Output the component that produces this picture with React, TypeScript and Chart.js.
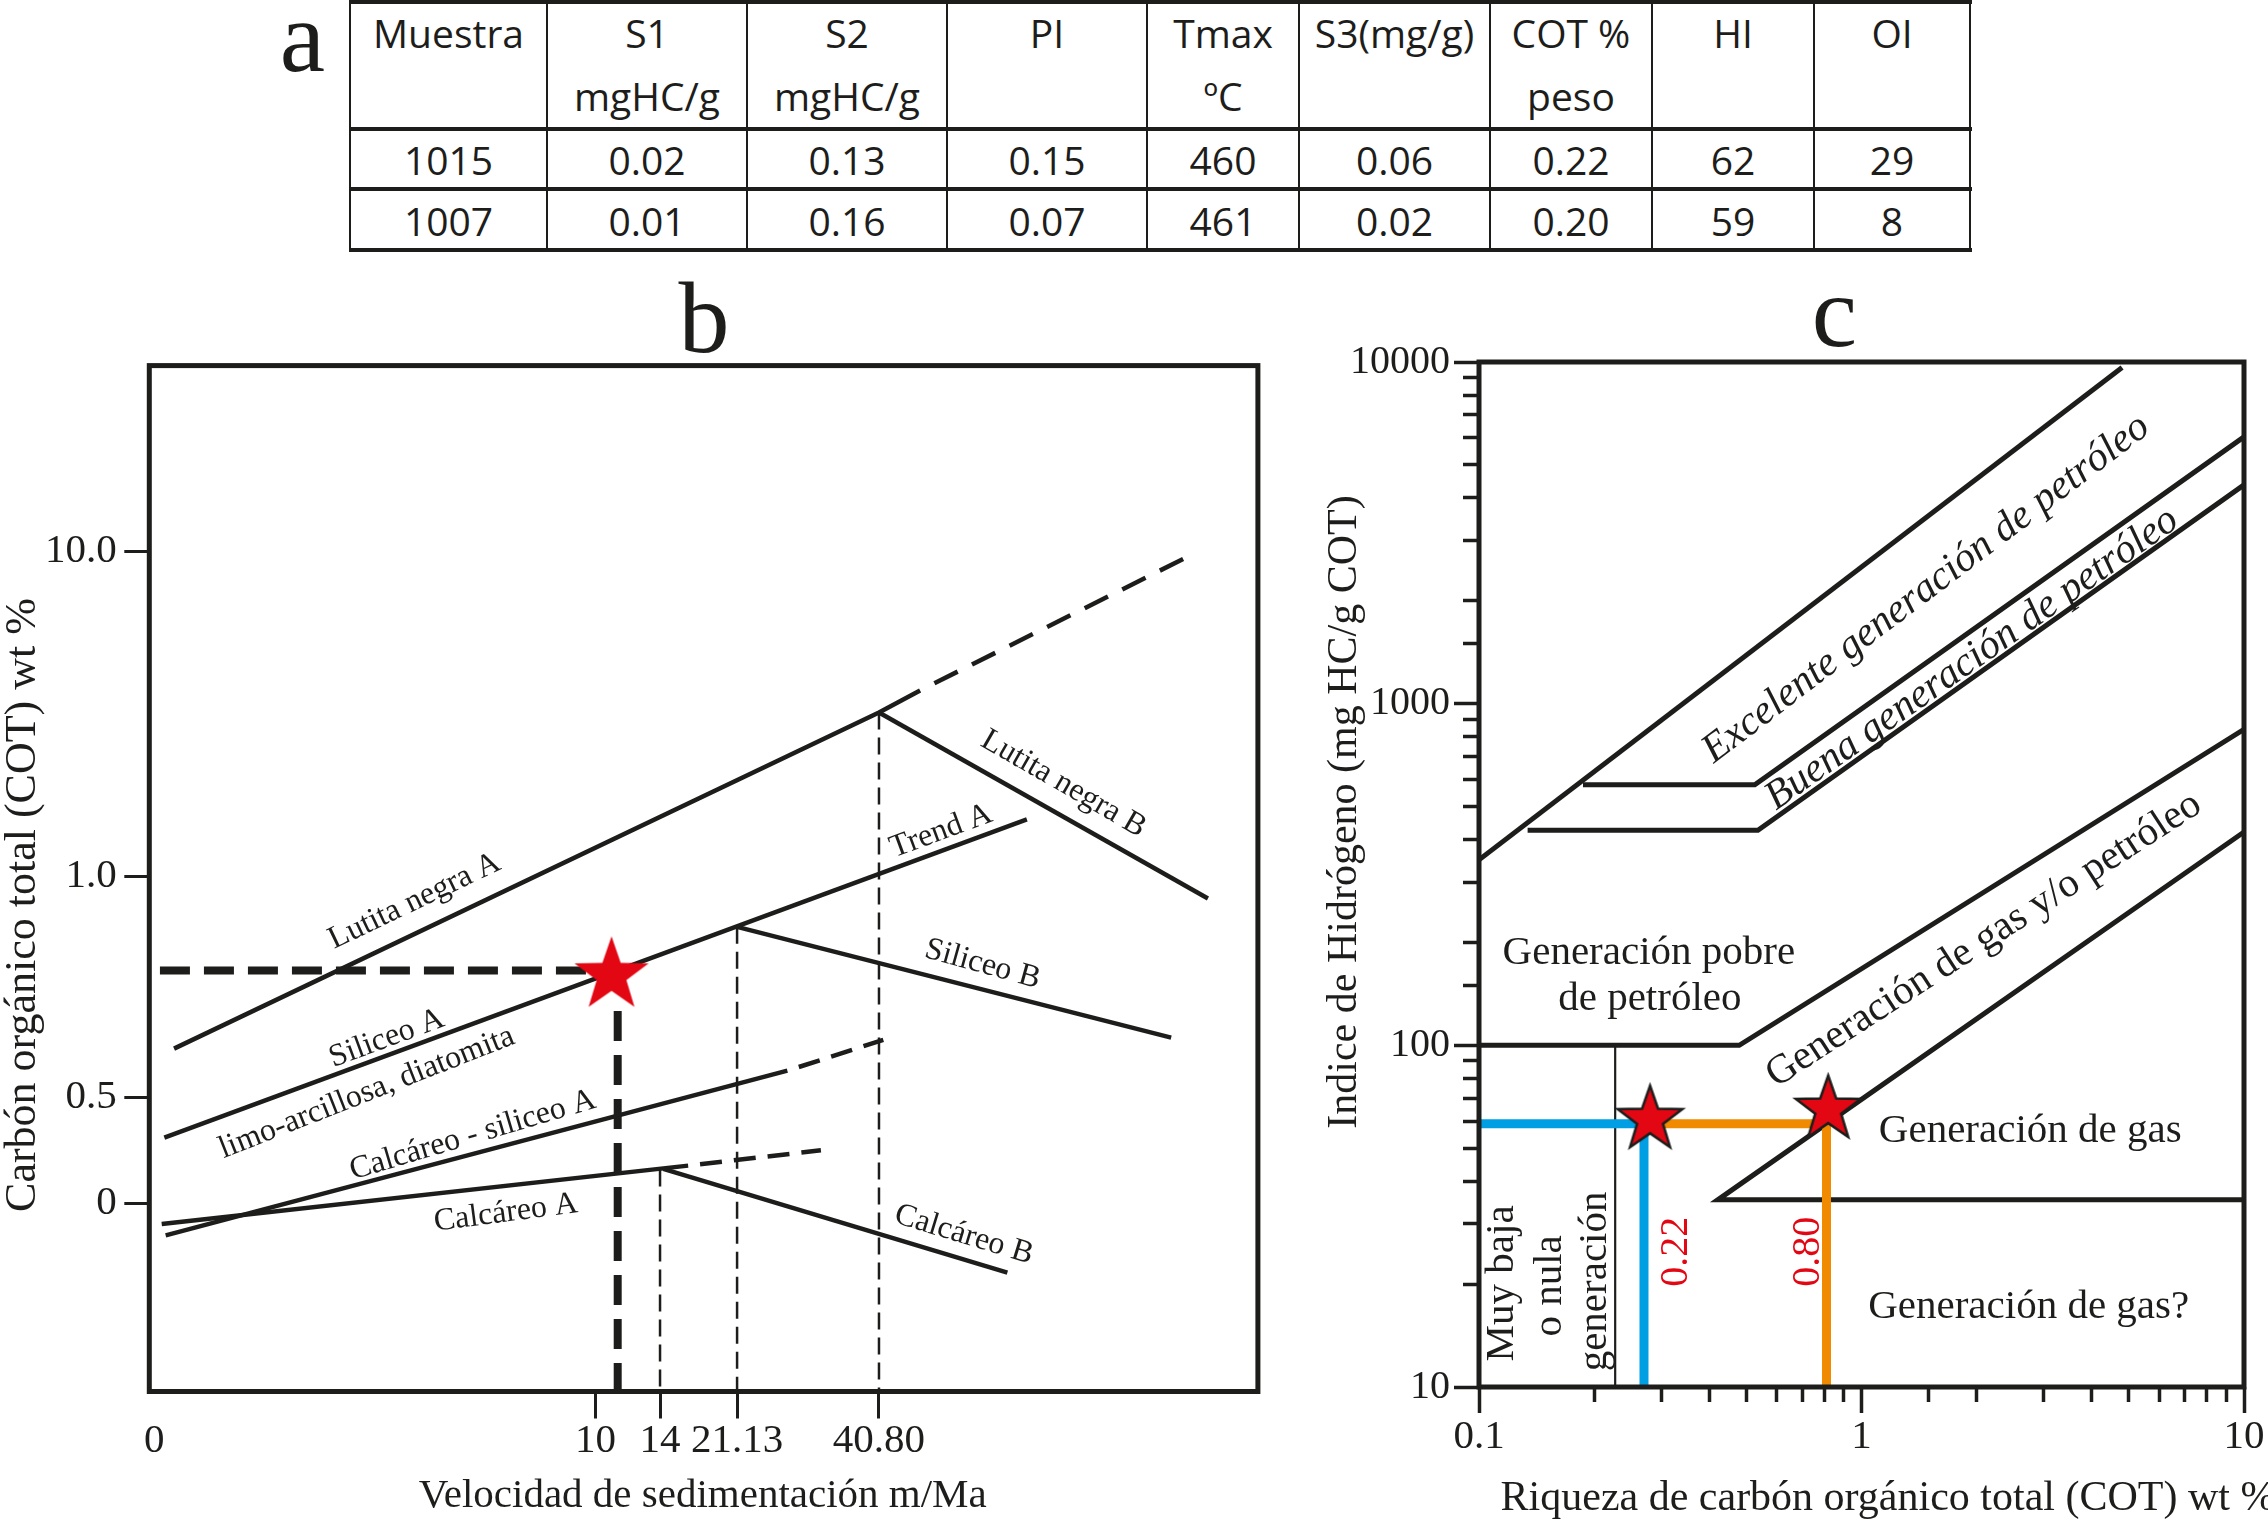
import React, { useEffect, useRef } from 'react';
import { Chart, registerables, LinearScale } from 'chart.js';

// ---------- custom piecewise-linear axis (panel b uses a schematic, non-uniform axis)
class PiecewiseScale extends (LinearScale as any) {
  static id = 'piecewise';
  static defaults = {};
  buildTicks() {
    return (this.options.breaks as number[]).map((v: number) => ({ value: v }));
  }
  toDecimal(v: number) {
    const b = this.options.breaks as number[];
    const s = this.options.stops as number[];
    let i = 0;
    if (v >= b[b.length - 1]) i = b.length - 2;
    else if (v > b[0]) {
      while (v > b[i + 1]) i++;
    }
    return s[i] + ((v - b[i]) * (s[i + 1] - s[i])) / (b[i + 1] - b[i]);
  }
  getPixelForValue(v: number) {
    return this.getPixelForDecimal(this.toDecimal(v));
  }
  getValueForPixel(p: number) {
    const d = this.getDecimalForPixel(p);
    const b = this.options.breaks as number[];
    const s = this.options.stops as number[];
    let i = 0;
    if (d >= s[s.length - 1]) i = s.length - 2;
    else if (d > s[0]) {
      while (d > s[i + 1]) i++;
    }
    return b[i] + ((d - s[i]) * (b[i + 1] - b[i])) / (s[i + 1] - s[i]);
  }
}

Chart.register(...registerables, PiecewiseScale as any);

const INK = '#1d1d1b';
const RED = '#e30613';
const BLUE = '#009fe3';
const ORANGE = '#f08a00';
const SERIF = '"Liberation Serif", "Times New Roman", serif';
const SANS = '"Open Sans", "Noto Sans", sans-serif';

// ---------- panel a : table
const tableHeadTop = ['Muestra', 'S1', 'S2', 'PI', 'Tmax', 'S3(mg/g)', 'COT %', 'HI', 'OI'];
const tableHeadBottom = ['', 'mgHC/g', 'mgHC/g', '', 'ºC', '', 'peso', '', ''];
const sample1015 = ['1015', '0.02', '0.13', '0.15', '460', '0.06', '0.22', '62', '29'];
const sample1007 = ['1007', '0.01', '0.16', '0.07', '461', '0.02', '0.20', '59', '8'];

// ---------- panel b : data (axis units)
const bXTicks = [0, 10, 14, 21.13, 40.8];
const bXTickLabels = ['0', '10', '14', '21.13', '40.80'];
const bYTicks = [0, 0.5, 1.0, 10.0];
const bYTickLabels = ['0', '0.5', '1.0', '10.0'];
const bXRange = [-0.111, 93.32];
const bYRange = [-0.884, 15.14];

const lutitaNegraA = [[0.45, 0.61], [40.8, 5.54], [46.5, 6.15]];
const lutitaNegraAExt = [[46.5, 6.15], [84.5, 9.94]];
const lutitaNegraB = [[40.8, 5.54], [86.4, 0.95]];
const trendA = [[0.23, 0.31], [61.3, 2.58]];
const siliceoB = [[21.13, 0.886], [81.3, 0.635]];
const calcSiliceoA = [[0.26, -0.15], [28.1, 0.56]];
const calcSiliceoAExt = [[28.1, 0.56], [41.4, 0.63]];
const calcareoA = [[0.17, -0.097], [16.6, 0.178]];
const calcareoAExt = [[16.6, 0.178], [32.75, 0.25]];
const calcareoB = [[14.3, 0.163], [58.6, -0.325]];
const drop14 = [[14, 0.16], [14, -0.884]];
const drop2113 = [[21.13, 0.886], [21.13, -0.884]];
const drop4080 = [[40.8, 5.54], [40.8, -0.884]];
const sampleB = [[11.0, 0.776]];
const sampleGuideH = [[0.13, 0.787], [9.85, 0.787]];
const sampleGuideV = [[11.38, 0.695], [11.38, -0.884]];

const bNotes = [
  { text: 'Lutita negra A', x: 5.9, y: 0.944, angle: -25.6 },
  { text: 'Siliceo A', x: 5.27, y: 0.633, angle: -20.3 },
  { text: 'limo-arcillosa, diatomita', x: 4.82, y: 0.51, angle: -21.5 },
  { text: 'Calcáreo - siliceo A', x: 7.22, y: 0.321, angle: -16.5 },
  { text: 'Calcáreo A', x: 7.97, y: -0.045, angle: -7.5 },
  { text: 'Calcáreo B', x: 52.58, y: -0.148, angle: 17 },
  { text: 'Siliceo B', x: 55.16, y: 0.801, angle: 15.5 },
  { text: 'Trend A', x: 49.41, y: 2.254, angle: -20.3 },
  { text: 'Lutita negra B', x: 66.38, y: 3.565, angle: 30 },
];

// ---------- panel c : data (COT wt %, HI)
const cXTicks = [0.1, 1, 10];
const cXTickLabels = ['0.1', '1', '10'];
const cYTicks = [10, 100, 1000, 10000];
const cYTickLabels = ['10', '100', '1000', '10000'];

const excelenteLow = [[0.1, 349], [4.8, 9630]];
const buenaTop = [[0.187, 579], [0.526, 579], [10, 6040]];
const buenaLow = [[0.134, 426], [0.536, 426], [10, 4370]];
const gasPetroleoTop = [[0.1, 100], [0.479, 100], [10, 841]];
const gasPetroleoLow = [[10, 421], [0.421, 35.3], [10, 35.3]];
const muyBajaLimit = [[0.227, 100], [0.227, 10]];
const sample1015Path = [[0.1, 59], [0.27, 59], [0.27, 10]];
const sample1007Path = [[0.27, 59], [0.81, 59], [0.81, 10]];
const samplesC = [[0.28, 60.6], [0.818, 64.9]];

const cNotes = [
  { text: 'Excelente generación de petróleo', x: 1.476, y: 2166, angle: -37.2, italic: true, size: 41 },
  { text: 'Buena generación de petróleo', x: 1.945, y: 1350, angle: -35.2, italic: true, size: 41 },
  { text: 'Generación de gas y/o petróleo', x: 2.091, y: 203.4, angle: -33, size: 41 },
  { text: 'Generación pobre', x: 0.278, y: 172.7, size: 41, baseline: 'alphabetic' },
  { text: 'de petróleo', x: 0.2797, y: 127.0, size: 41, baseline: 'alphabetic' },
  { text: 'Generación de gas', x: 2.762, y: 52.2, size: 41, baseline: 'alphabetic' },
  { text: 'Generación de gas?', x: 2.736, y: 15.89, size: 41, baseline: 'alphabetic' },
  { text: 'Muy baja', x: 0.1225, y: 20.1, angle: -90, size: 41, baseline: 'alphabetic' },
  { text: 'o nula', x: 0.1642, y: 19.76, angle: -90, size: 41, baseline: 'alphabetic' },
  { text: 'generación', x: 0.2146, y: 20.37, angle: -90, size: 41, baseline: 'alphabetic' },
  { text: '0.22', x: 0.3505, y: 24.86, angle: -90, size: 40, baseline: 'alphabetic', color: RED },
  { text: '0.80', x: 0.776, y: 24.86, angle: -90, size: 40, baseline: 'alphabetic', color: RED },
];

// ---------- layout (pixels)
const colEdges = [350, 547, 747, 947, 1147, 1299, 1490, 1652, 1814, 1970];
const rowRules = [2, 128.5, 189.2, 250.2];
const textRows = [34, 97, 161, 222];

type Note = {
  text: string; x: number; y: number; angle?: number; size?: number; italic?: boolean;
  color?: string; align?: CanvasTextAlign; baseline?: CanvasTextBaseline; pixel?: boolean;
};

const pts = (a: number[][]) => a.map(([x, y]) => ({ x, y }));

function notesPlugin(notes: Note[], defaultSize: number) {
  return {
    id: 'notes',
    afterDraw(chart: any) {
      const ctx = chart.ctx;
      for (const n of notes) {
        const px = n.pixel ? n.x : chart.scales.x.getPixelForValue(n.x);
        const py = n.pixel ? n.y : chart.scales.y.getPixelForValue(n.y);
        ctx.save();
        ctx.translate(px, py);
        if (n.angle) ctx.rotate((n.angle * Math.PI) / 180);
        ctx.font = `${n.italic ? 'italic ' : ''}${n.size || defaultSize}px ${SERIF}`;
        ctx.fillStyle = n.color || INK;
        ctx.textAlign = n.align || 'center';
        ctx.textBaseline = n.baseline || 'middle';
        ctx.fillText(n.text, 0, 0);
        ctx.restore();
      }
    },
  };
}

function framePlugin(w: number) {
  return {
    id: 'frame',
    afterDatasetsDraw(chart: any) {
      const { ctx, chartArea: a } = chart;
      ctx.save();
      ctx.strokeStyle = INK;
      ctx.lineWidth = w;
      ctx.strokeRect(a.left, a.top, a.right - a.left, a.bottom - a.top);
      ctx.restore();
    },
  };
}

function makeStar(R: number, fill: string, stroke: string | null, lw: number) {
  const pad = lw + 2;
  const size = Math.ceil(2 * R + 2 * pad);
  const c = document.createElement('canvas');
  c.width = size;
  c.height = size;
  const g = c.getContext('2d')!;
  const cx = size / 2;
  const cy = size / 2;
  const r = R * 0.4;
  g.beginPath();
  for (let i = 0; i < 10; i++) {
    const rad = i % 2 === 0 ? R : r;
    const a = -Math.PI / 2 + (i * Math.PI) / 5;
    const x = cx + rad * Math.cos(a);
    const y = cy + rad * Math.sin(a);
    if (i === 0) g.moveTo(x, y);
    else g.lineTo(x, y);
  }
  g.closePath();
  g.fillStyle = fill;
  g.fill();
  if (stroke) {
    g.lineWidth = lw;
    g.strokeStyle = stroke;
    g.lineJoin = 'miter';
    g.stroke();
  }
  return c;
}

function line(data: number[][], width: number, color = INK, dash: number[] = [], offset = 0, order = 2) {
  return {
    data: pts(data),
    borderColor: color,
    borderWidth: width,
    borderDash: dash,
    borderDashOffset: offset,
    borderJoinStyle: 'miter',
    pointRadius: 0,
    showLine: true,
    fill: false,
    order,
  };
}

const isPow10 = (v: number) => Math.abs(Math.log10(v) - Math.round(Math.log10(v))) < 1e-6;
const pickLabel = (v: number, vals: number[], labels: string[]) => {
  const i = vals.findIndex((t) => Math.abs(v - t) < Math.abs(t) * 1e-6);
  return i >= 0 ? labels[i] : '';
};

function configB(star: HTMLCanvasElement): any {
  return {
    type: 'scatter',
    data: {
      datasets: [
        { data: pts(sampleB), pointStyle: star, pointRadius: 20, showLine: false, order: 0 },
        line(sampleGuideH, 8, INK, [30, 14], 0, 1),
        line(sampleGuideV, 8, INK, [30, 14], 0, 1),
        line(lutitaNegraA, 4.5),
        line(lutitaNegraAExt, 4.5, INK, [26, 16], 26),
        line(lutitaNegraB, 4.5),
        line(trendA, 4.5),
        line(siliceoB, 4.5),
        line(calcSiliceoA, 4.5),
        line(calcSiliceoAExt, 4.5, INK, [22, 12], 22),
        line(calcareoA, 4.5),
        line(calcareoAExt, 4.5, INK, [22, 12], 22),
        line(calcareoB, 4.5),
        line(drop14, 2.5, INK, [17, 8]),
        line(drop2113, 2.5, INK, [17, 8]),
        line(drop4080, 2.5, INK, [17, 8]),
      ],
    },
    options: {
      responsive: false,
      animation: false,
      events: [],
      layout: { padding: { left: 0, top: 105.6, right: 42.1, bottom: 0 } },
      plugins: { legend: { display: false }, tooltip: { enabled: false } },
      scales: {
        x: {
          type: 'piecewise',
          position: 'bottom',
          min: bXRange[0],
          max: bXRange[1],
          breaks: bXTicks,
          stops: [0.00442, 0.4024, 0.4607, 0.5302, 0.6582],
          afterFit: (s: any) => { s.height = 129.5; },
          border: { display: false },
          grid: {
            drawOnChartArea: false,
            drawTicks: true,
            tickLength: 27,
            tickWidth: 3,
            tickColor: (c: any) => (c.index === 0 ? 'rgba(0,0,0,0)' : INK),
          },
          ticks: {
            autoSkip: false,
            maxRotation: 0,
            minRotation: 0,
            padding: 2,
            color: INK,
            font: { family: SERIF, size: 41, lineHeight: 1 },
            callback: (_v: number, i: number) => bXTickLabels[i],
          },
        },
        y: {
          type: 'piecewise',
          position: 'left',
          min: bYRange[0],
          max: bYRange[1],
          breaks: bYTicks,
          stops: [0.1833, 0.2869, 0.502, 0.819],
          afterFit: (s: any) => { s.width = 149.3; },
          border: { display: false },
          grid: { drawOnChartArea: false, drawTicks: true, tickLength: 25, tickWidth: 3, tickColor: INK },
          ticks: {
            autoSkip: false,
            padding: 7.6,
            color: INK,
            font: { family: SERIF, size: 41, lineHeight: 1 },
            callback: (_v: number, i: number) => bYTickLabels[i],
          },
        },
      },
    },
    plugins: [
      framePlugin(5),
      notesPlugin(
        [
          ...bNotes,
          { text: 'Carbón orgánico total (COT) wt %', x: 35, y: 645, angle: -90, size: 44, baseline: 'alphabetic', pixel: true },
          { text: 'Velocidad de sedimentación m/Ma', x: 702.7, y: 1247, size: 41, baseline: 'alphabetic', pixel: true },
          { text: 'b', x: 704, y: 91.7, size: 102, baseline: 'alphabetic', pixel: true },
        ] as Note[],
        32,
      ),
    ],
  };
}

function configC(star: HTMLCanvasElement): any {
  return {
    type: 'scatter',
    data: {
      datasets: [
        { data: pts(samplesC), pointStyle: star, pointRadius: 20, showLine: false, order: 0 },
        line(sample1015Path, 9, BLUE, [], 0, 1),
        line(sample1007Path, 9, ORANGE, [], 0, 1),
        line(excelenteLow, 5),
        line(buenaTop, 5),
        line(buenaLow, 5),
        line(gasPetroleoTop, 5),
        line(gasPetroleoLow, 5),
        line(muyBajaLimit, 2.2),
      ],
    },
    options: {
      responsive: false,
      animation: false,
      events: [],
      layout: { padding: { left: 0, top: 102, right: 18, bottom: 0 } },
      plugins: { legend: { display: false }, tooltip: { enabled: false } },
      scales: {
        x: {
          type: 'logarithmic',
          position: 'bottom',
          min: 0.1,
          max: 10,
          afterFit: (s: any) => { s.height = 134; },
          border: { display: false },
          grid: {
            drawOnChartArea: false,
            drawTicks: true,
            tickLength: 26,
            tickWidth: 3.5,
            tickColor: INK,
            tickBorderDash: (c: any) => (isPow10(c.tick.value) ? [] : [15, 200]),
          },
          ticks: {
            autoSkip: false,
            maxRotation: 0,
            minRotation: 0,
            padding: 3.5,
            color: INK,
            font: { family: SERIF, size: 41, lineHeight: 1 },
            callback: (v: number) => pickLabel(v, cXTicks, cXTickLabels),
          },
        },
        y: {
          type: 'logarithmic',
          position: 'left',
          min: 10,
          max: 10000,
          afterFit: (s: any) => { s.width = 179; },
          border: { display: false },
          grid: {
            drawOnChartArea: false,
            drawTicks: true,
            tickLength: 25,
            tickWidth: 3.5,
            tickColor: INK,
            tickBorderDash: (c: any) => (isPow10(c.tick.value) ? [] : [0, 9, 16, 200]),
          },
          ticks: {
            autoSkip: false,
            padding: 4,
            color: INK,
            font: { family: SERIF, size: 40, lineHeight: 1 },
            callback: (v: number) => pickLabel(v, cYTicks, cYTickLabels),
          },
        },
      },
    },
    plugins: [
      framePlugin(5),
      notesPlugin(
        [
          ...cNotes,
          { text: 'Indice de Hidrógeno (mg HC/g COT)', x: 56, y: 552, angle: -90, size: 42, baseline: 'alphabetic', pixel: true },
          { text: 'Riqueza de carbón orgánico total (COT) wt %', x: 200.6, y: 1250, size: 42, align: 'left', baseline: 'alphabetic', pixel: true },
          { text: 'c', x: 534.5, y: 86, size: 102, baseline: 'alphabetic', pixel: true },
        ] as Note[],
        41,
      ),
    ],
  };
}

export default function App() {
  const bRef = useRef<HTMLCanvasElement>(null);
  const cRef = useRef<HTMLCanvasElement>(null);

  useEffect(() => {
    document.body.style.margin = '0';
    const starB = makeStar(39, RED, null, 0);
    const starC = makeStar(34, RED, INK, 2.5);
    const chartB = new Chart(bRef.current as HTMLCanvasElement, configB(starB));
    const chartC = new Chart(cRef.current as HTMLCanvasElement, configC(starC));
    return () => {
      chartB.destroy();
      chartC.destroy();
    };
  }, []);

  const tableRows = [tableHeadTop, tableHeadBottom, sample1015, sample1007];
  const fs = 39;

  return (
    <div style={{ position: 'absolute', left: 0, top: 0, width: 2268, height: 1521, background: '#fff', overflow: 'hidden' }}>
      <div style={{ position: 'absolute', left: 262.5, top: -13.7, width: 80, textAlign: 'center', font: `102px/102px ${SERIF}`, color: INK }}>a</div>
      {rowRules.map((y, i) => (
        <div key={'h' + i} style={{ position: 'absolute', left: colEdges[0] - 1.5, width: colEdges[colEdges.length - 1] - colEdges[0] + 3, top: y - 2, height: 4, background: INK }} />
      ))}
      {colEdges.map((x, i) => (
        <div key={'v' + i} style={{ position: 'absolute', left: x - 1.25, width: 2.5, top: 0, height: 252, background: INK }} />
      ))}
      {tableRows.map((row, r) =>
        row.map((txt, c) => (
          <div
            key={`t${r}-${c}`}
            style={{
              position: 'absolute',
              left: colEdges[c],
              width: colEdges[c + 1] - colEdges[c],
              top: textRows[r] - 0.531 * fs,
              height: fs,
              lineHeight: `${fs}px`,
              fontSize: fs,
              fontFamily: SANS,
              color: INK,
              textAlign: 'center',
              whiteSpace: 'nowrap',
            }}
          >
            {txt}
          </div>
        )),
      )}
      <canvas ref={bRef} width={1300} height={1261} style={{ position: 'absolute', left: 0, top: 260, width: 1300, height: 1261 }} />
      <canvas ref={cRef} width={968} height={1261} style={{ position: 'absolute', left: 1300, top: 260, width: 968, height: 1261 }} />
    </div>
  );
}
